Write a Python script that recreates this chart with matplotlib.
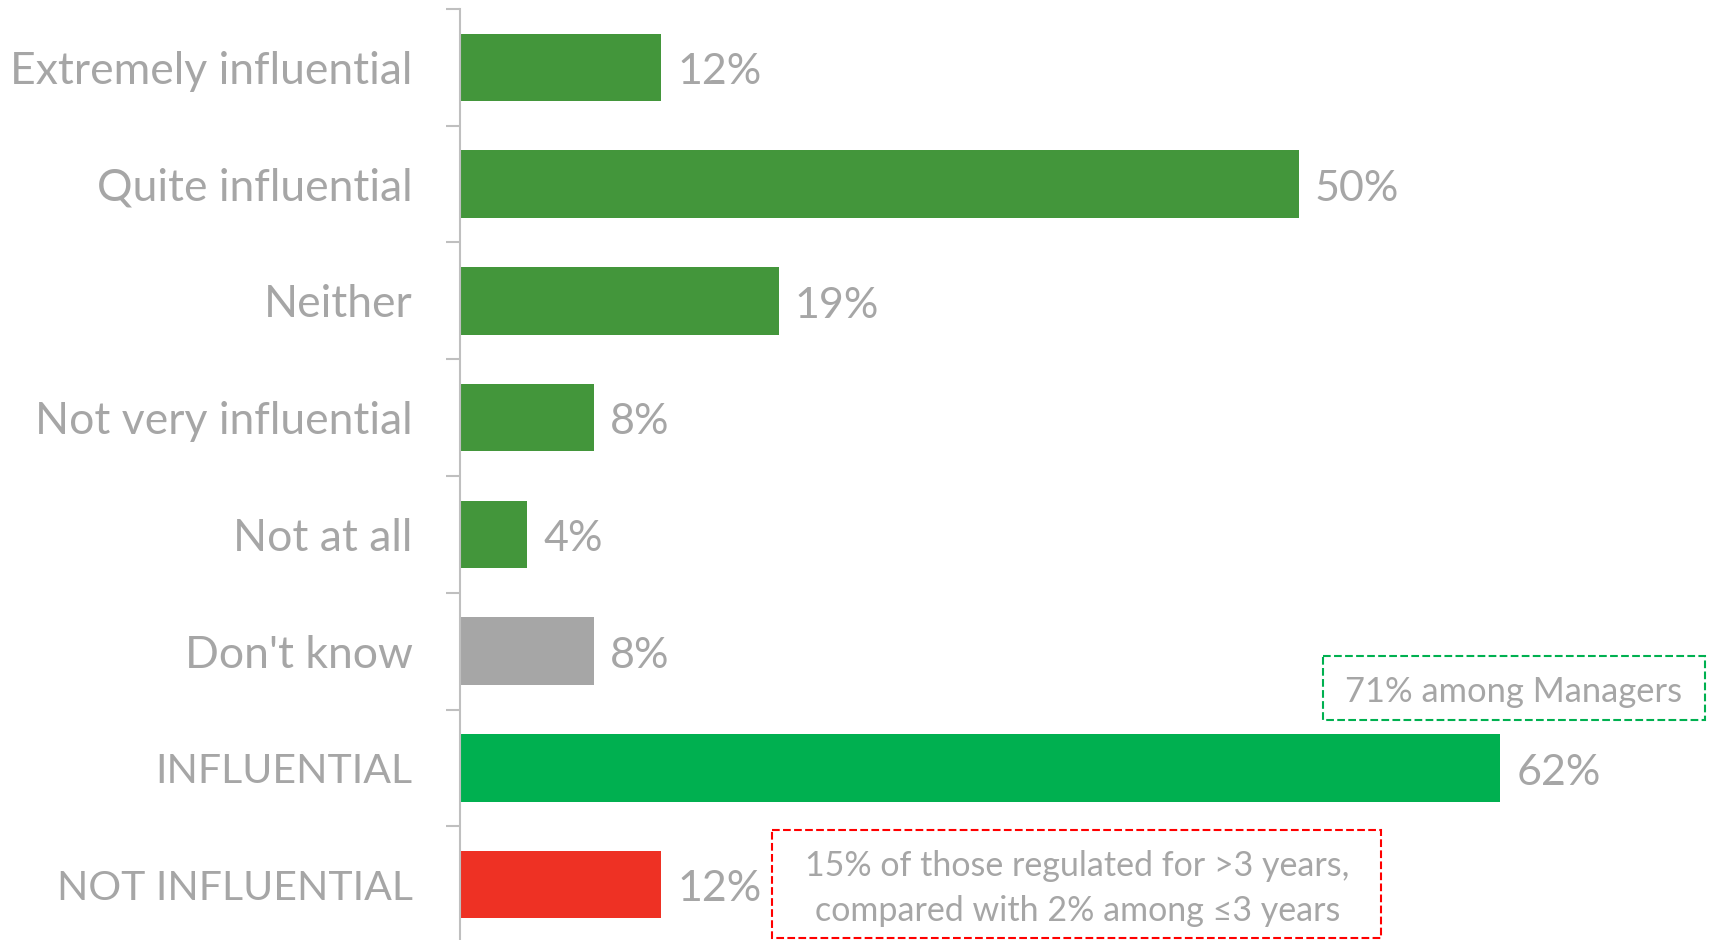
import matplotlib.pyplot as plt
from matplotlib.patches import Rectangle
import numpy as np

plt.rcParams['font.family'] = ['Lato', 'DejaVu Sans']

# data
categories = ['Extremely influential', 'Quite influential', 'Neither',
              'Not very influential', 'Not at all', "Don't know",
              'INFLUENTIAL', 'NOT INFLUENTIAL']
values = [12, 50, 19, 8, 4, 8, 62, 12]
colors = ['#43963b', '#43963b', '#43963b', '#43963b', '#43963b',
          '#a6a6a6', '#00b050', '#ee3124']
note_managers = '71% among Managers'
note_years = '15% of those regulated for >3 years,\ncompared with 2% among \u22643 years'

txt_gray = '#a6a6a6'

fig = plt.figure(figsize=(17.11, 9.40), dpi=100)
ax = fig.add_axes([460 / 1711, -3 / 940, 1 - 460 / 1711, 934 / 940])

y = np.arange(len(categories))
ax.barh(y, values, height=0.58, color=colors)

for yi, v in zip(y, values):
    ax.text(v + 0.95, yi + 0.04, f'{v}%', va='center', ha='left',
            fontsize=31, color=txt_gray)

ax.set_xlim(0, 74.55)
ax.set_ylim(len(categories) - 0.5, -0.5)

ax.set_yticks(y)
ax.set_yticklabels(categories, fontsize=32, color=txt_gray)
# the all-caps labels run wide in Lato, shrink them a bit
for lab in ax.get_yticklabels():
    if lab.get_text().isupper():
        lab.set_fontsize(29.5)
ax.tick_params(axis='y', which='major', length=0, pad=34)
ax.set_yticks(np.arange(-0.5, len(categories), 1.0), minor=True)
ax.tick_params(axis='y', which='minor', length=10, width=1.5, color='#bfbfbf')
ax.set_xticks([])

for s in ['top', 'right', 'bottom']:
    ax.spines[s].set_visible(False)
ax.spines['left'].set_color('#bfbfbf')
ax.spines['left'].set_linewidth(1.5)

# annotation boxes
ax.add_patch(Rectangle((51.4, 5.044), 74.2 - 51.4, 5.59 - 5.044, fill=False,
                       ls='--', lw=1.5, ec='#00b050', clip_on=False))
ax.text(62.8, 5.35, note_managers, ha='center', va='center',
        fontsize=24.8, color=txt_gray)

ax.add_patch(Rectangle((18.6, 6.535), 54.9 - 18.6, 7.46 - 6.535, fill=False,
                       ls='--', lw=1.5, ec='#ff0000', clip_on=False))
ax.text(36.8, 7.03, note_years, ha='center', va='center',
        fontsize=24.5, color=txt_gray, linespacing=1.5)

fig.savefig('out.png', dpi=100)
